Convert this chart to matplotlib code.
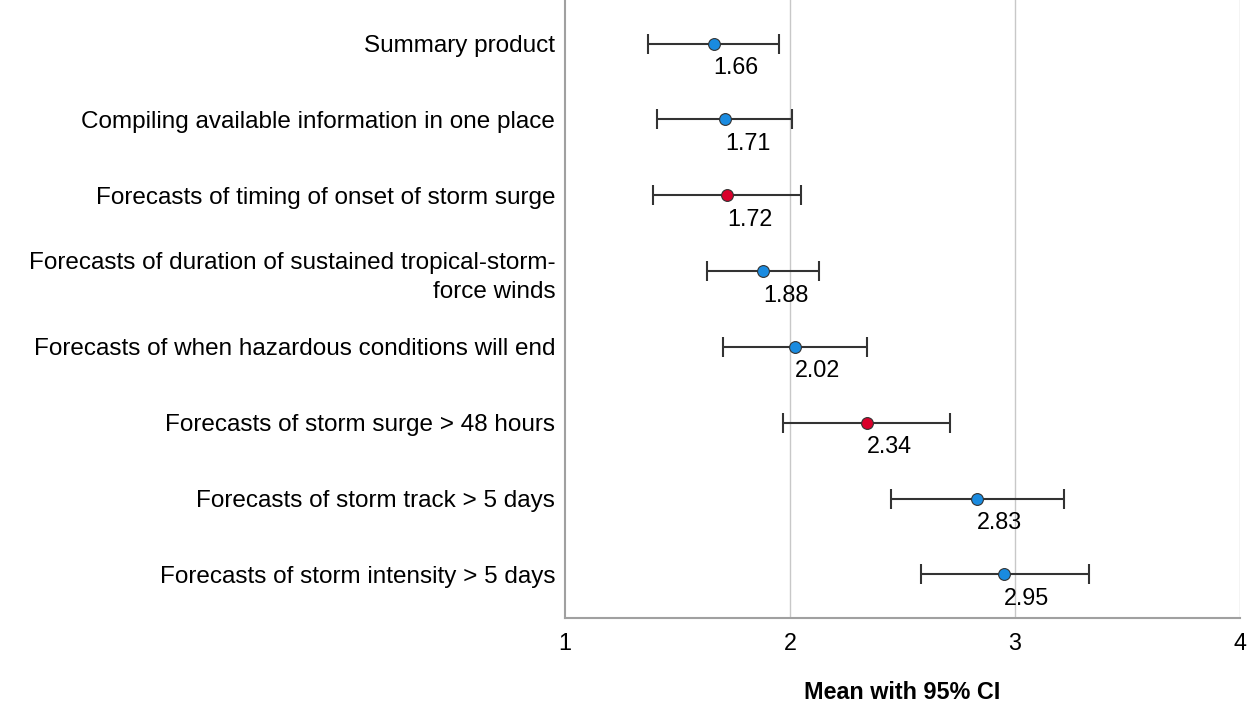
import matplotlib.pyplot as plt
import numpy as np

plt.rcParams["font.family"] = ["Liberation Sans", "DejaVu Sans"]

labels = [
    "Summary product",
    "Compiling available information in one place",
    "Forecasts of timing of onset of storm surge",
    "Forecasts of duration of sustained tropical-storm-\nforce winds",
    "Forecasts of when hazardous conditions will end",
    "Forecasts of storm surge > 48 hours",
    "Forecasts of storm track > 5 days",
    "Forecasts of storm intensity > 5 days",
]
means = [1.66, 1.71, 1.72, 1.88, 2.02, 2.34, 2.83, 2.95]
ci_low = [1.37, 1.41, 1.39, 1.63, 1.70, 1.97, 2.45, 2.58]
ci_high = [1.95, 2.01, 2.05, 2.13, 2.34, 2.71, 3.22, 3.33]
highlight = [False, False, True, False, False, True, False, False]

blue = "#1a8be0"
red = "#d9002b"

fig = plt.figure(figsize=(12.52, 7.02), dpi=100)
ax = fig.add_axes([0.4513, 0.1197, 0.5391, 0.8803])

y = np.arange(len(labels))
means_arr = np.array(means)
err = [means_arr - np.array(ci_low), np.array(ci_high) - means_arr]

ax.errorbar(means, y, xerr=err, fmt="none", ecolor="#333333",
            elinewidth=1.5, capsize=7, capthick=1.5, zorder=3)
for yi, m, h in zip(y, means, highlight):
    ax.plot(m, yi, "o", ms=8.5, mfc=red if h else blue,
            mec="#333333", mew=0.8, zorder=4)
    ax.annotate(f"{m:.2f}", (m, yi), xytext=(0, -9), textcoords="offset points",
                ha="left", va="top", fontsize=16.8)

ax.set_xlim(1, 4)
ax.set_ylim(len(labels) - 1 + 0.574, -0.574)
ax.set_xticks([1, 2, 3, 4])
ax.set_yticks(y)
ax.set_yticklabels(labels, fontsize=17.5, linespacing=1.45)
ax.tick_params(axis="x", labelsize=16.8, length=0, pad=10)
ax.tick_params(axis="y", length=0, pad=7)

for x in [2, 3, 4]:
    ax.axvline(x, color="#c8c8c8", lw=1.0, zorder=1)

for side in ["top", "right"]:
    ax.spines[side].set_visible(False)
for side in ["left", "bottom"]:
    ax.spines[side].set_color("#a0a0a0")
    ax.spines[side].set_linewidth(1.5)

ax.set_xlabel("Mean with 95% CI", fontsize=16.8, fontweight="bold", labelpad=19)

fig.savefig("out.png", dpi=100)
